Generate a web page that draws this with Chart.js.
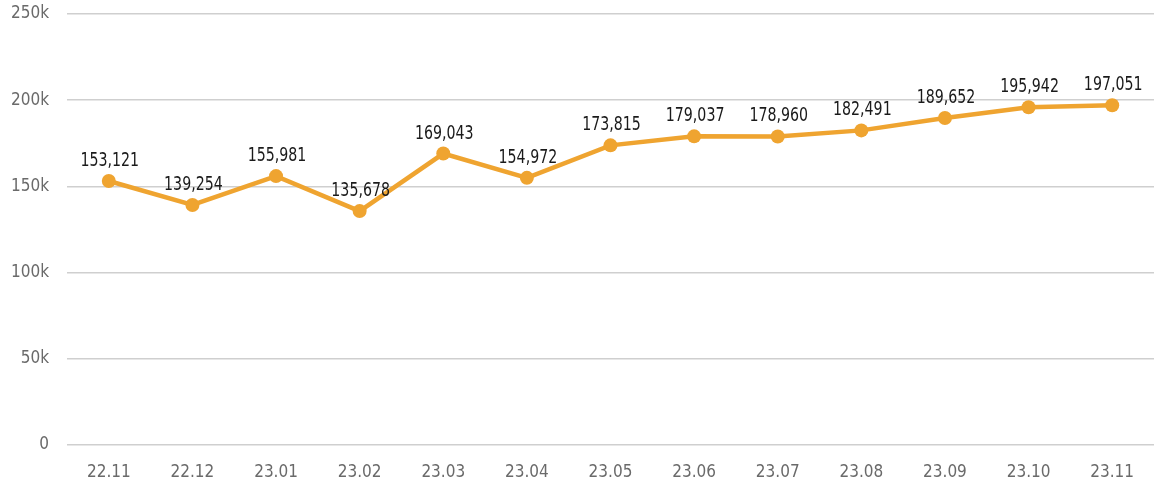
<!DOCTYPE html>
<html><head><meta charset="utf-8">
<script src="https://cdn.jsdelivr.net/npm/chart.js@4"></script>
<style>html,body{margin:0;padding:0;background:#fff;}#c{display:block;}</style>
</head><body>
<canvas id="c" width="1155" height="486"></canvas>
<script>
const categories = ["22.11","22.12","23.01","23.02","23.03","23.04","23.05","23.06","23.07","23.08","23.09","23.10","23.11"];
const values = [153121,139254,155981,135678,169043,154972,173815,179037,178960,182491,189652,195942,197051];
const yTicks = [0,50000,100000,150000,200000,250000];
const FONT = "'DejaVu Sans Condensed', 'DejaVu Sans', sans-serif";

const labelPlugin = {
  id: 'valueLabels',
  afterDatasetsDraw(chart) {
    const ctx = chart.ctx;
    const meta = chart.getDatasetMeta(0);
    const sx = 0.83;
    meta.data.forEach((pt, i) => {
      ctx.save();
      ctx.font = "19px " + FONT;
      ctx.fillStyle = "#1a1a1a";
      ctx.textAlign = "center";
      ctx.textBaseline = "middle";
      ctx.translate(pt.x + 1, pt.y - 20);
      ctx.scale(sx, 1);
      ctx.fillText(values[i].toLocaleString('en-US'), 0, 0);
      ctx.restore();
    });
  }
};

new Chart(document.getElementById('c'), {
  type: 'line',
  data: {
    labels: categories,
    datasets: [{
      data: values,
      borderColor: '#EFA430',
      backgroundColor: '#EFA430',
      borderWidth: 4.5,
      pointRadius: 7,
      pointHoverRadius: 7,
      pointBorderWidth: 0,
      tension: 0,
      fill: false
    }]
  },
  options: {
    responsive: false,
    animation: false,
    layout: { autoPadding: false, padding: { top: 14, right: 1, bottom: 0, left: 0 } },
    plugins: { legend: { display: false }, tooltip: { enabled: false } },
    scales: {
      x: {
        offset: true,
        grid: { display: false },
        border: { display: false },
        ticks: { color: '#6a6a6a', font: { family: FONT, size: 17 }, padding: 9, maxRotation: 0 },
        afterFit(s) { s.height = 41; s.paddingLeft = 0; s.paddingRight = 0; }
      },
      y: {
        min: 0, max: 250000,
        afterBuildTicks(s) { s.ticks = yTicks.map(v => ({ value: v })); },
        grid: { color: '#cfcfcf', lineWidth: 1.6, drawTicks: false },
        border: { display: false },
        ticks: {
          color: '#6a6a6a', font: { family: FONT, size: 17 }, padding: 18,
          callback: v => v === 0 ? '0' : (v / 1000) + 'k'
        },
        afterFit(s) { s.width = 67; s.paddingTop = 0; s.paddingBottom = 0; }
      }
    }
  },
  plugins: [labelPlugin]
});
</script>
</body></html>
